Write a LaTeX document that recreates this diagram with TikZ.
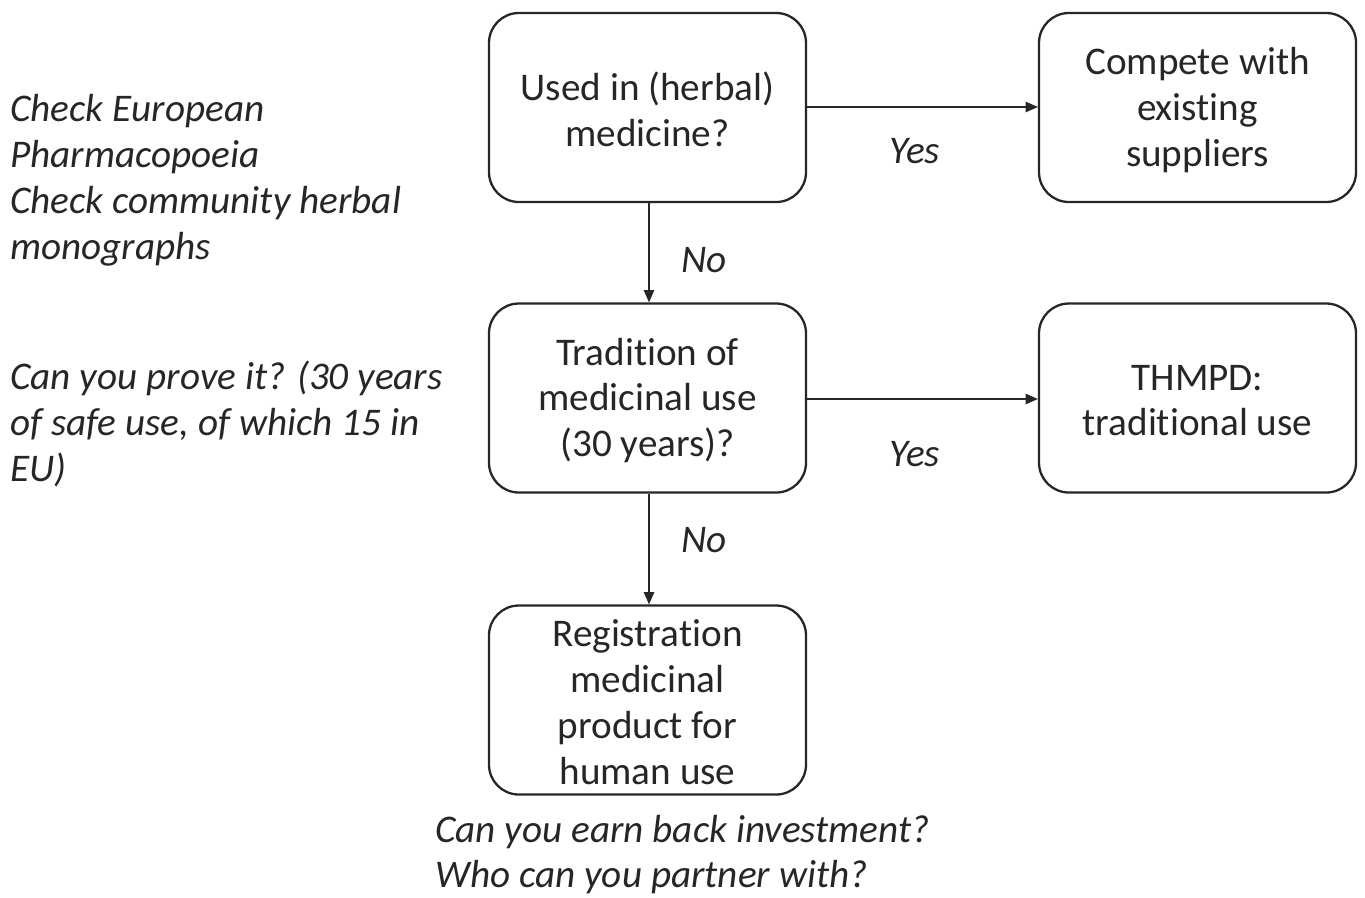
\documentclass[tikz,border=0pt]{standalone}
\usepackage{fontspec}
\setmainfont{Carlito}[RawFeature=-liga]
\usetikzlibrary{arrows.meta}
\definecolor{ink}{HTML}{262626}
\tikzset{
  box/.style={draw=ink, line width=1.3pt, rounded corners=17pt,
    minimum width=317*0.02cm, minimum height=189*0.02cm,
    align=center, inner sep=0pt, text=ink,
    font=\fontsize{22.3}{26.1}\selectfont},
  note/.style={align=left, inner sep=0pt, text=ink, anchor=west,
    font=\fontsize{22.3}{26.1}\selectfont\itshape},
  lbl/.style={inner sep=0pt, text=ink, font=\fontsize{22.3}{26.1}\selectfont\itshape},
  link/.style={draw=ink, line width=0.6pt, -{Triangle[length=7pt,width=6pt]}}
}
\begin{document}
\begin{tikzpicture}[x=0.02cm, y=-0.02cm]
  \useasboundingbox (0,0) rectangle (1365,897);
  % decision boxes
  \node[box] (used) at (647.5,107.5) {};
  \node[box] (compete) at (1197.5,107.5) {};
  \node[box] (trad) at (647.5,398) {};
  \node[box] (thmpd) at (1197.5,398) {};
  \node[box] (reg) at (647.5,700) {};
  % box texts, set slightly below the geometric centre
  \node[box, draw=none] (used-t) at (647.5,109.5) {Used in (herbal)\\medicine?};
  \node[box, draw=none] (compete-t) at (1197.5,110) {Compete with\\existing\\suppliers};
  \node[box, draw=none] (trad-t) at (647.5,400.5) {Tradition of\\medicinal use\\(30 years)?};
  \node[box, draw=none] (thmpd-t) at (1197.5,400.5) {THMPD:\\traditional use};
  \node[box, draw=none] (reg-t) at (647.5,702) {Registration\\medicinal\\product for\\human use};
  % connectors
  \draw[link] (used.east |- 0,107) -- (compete.west |- 0,107);
  \draw[link] (trad.east |- 0,399) -- (thmpd.west |- 0,399);
  \draw[link] (used.south -| 649,0) -- (trad.north -| 649,0);
  \draw[link] (trad.south -| 649,0) -- (reg.north -| 649,0);
  % branch labels
  \node[lbl] (y1) at (915,151) {Yes};
  \node[lbl] (n1) at (704,260) {No};
  \node[lbl] (y2) at (915,454.5) {Yes};
  \node[lbl] (n2) at (704,540.5) {No};
  % side notes
  \node[note] (n-pharm) at (10,180) {Check European\\Pharmacopoeia\\Check community herbal\\monographs};
  \node[note] (n-prove) at (10,424) {Can you prove it? (30 years\\of safe use, of which 15 in\\EU)};
  \node[note] (n-invest) at (435,854.5) {Can you earn back investment?\\Who can you partner with?};
\end{tikzpicture}
\end{document}
